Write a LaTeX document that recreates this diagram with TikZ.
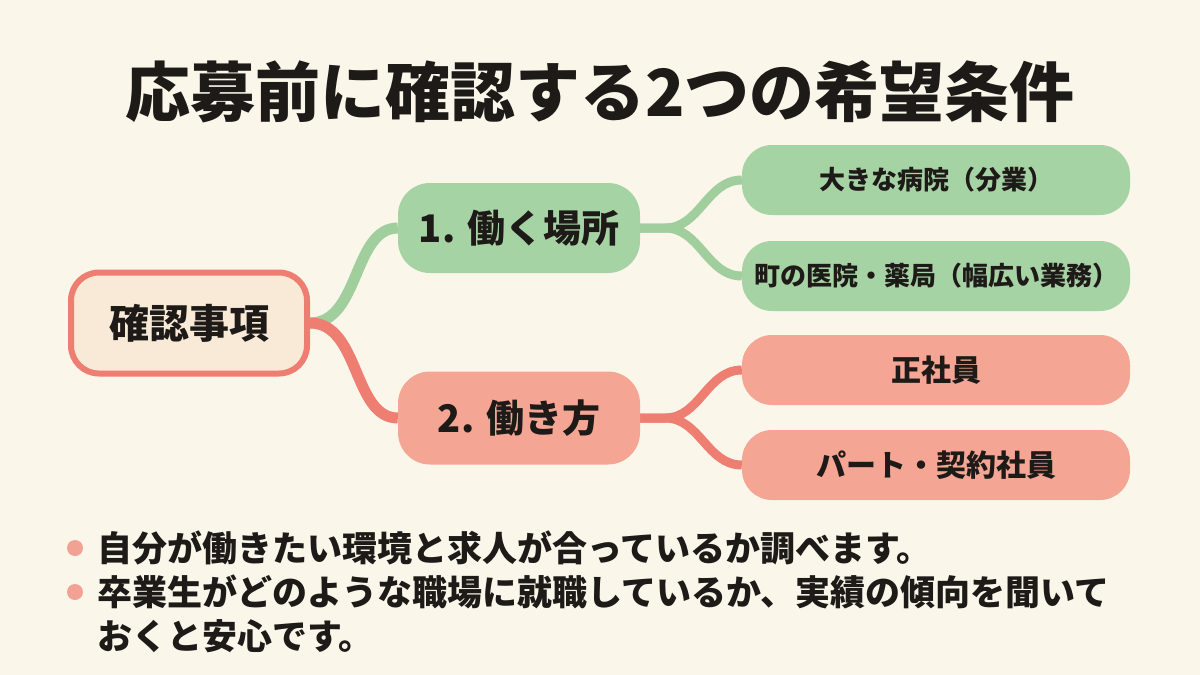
\documentclass[tikz,border=0pt]{standalone}
\usepackage{fontspec}
\setmainfont{Noto Sans CJK JP}
\usepackage{tikz}
\usetikzlibrary{positioning}
\usepackage{xcolor}
\definecolor{paper}{RGB}{251,246,234}
\definecolor{ink}{RGB}{30,26,24}
\definecolor{rootfill}{RGB}{248,234,214}
\definecolor{salmonline}{RGB}{238,125,114}
\definecolor{salmonfill}{RGB}{244,165,147}
\definecolor{greenline}{RGB}{160,206,157}
\definecolor{greenfill}{RGB}{166,211,164}
\definecolor{bulletdot}{RGB}{241,162,148}
\pgfdeclarelayer{bg}
\pgfdeclarelayer{edges}
\pgfsetlayers{bg,edges,main}
\tikzset{rootnode/.style={rectangle, rounded corners=28pt, fill=rootfill, draw=salmonline, line width=6pt, minimum width=236pt, minimum height=101pt, text=ink, font=\bfseries\fontsize{40}{44}\selectfont},
greenmid/.style={rectangle, rounded corners=32pt, fill=greenfill, minimum width=242pt, minimum height=90pt, text=ink, font=\bfseries\fontsize{38}{42}\selectfont},
salmonmid/.style={rectangle, rounded corners=32pt, fill=salmonfill, minimum width=242pt, minimum height=93pt, text=ink, font=\bfseries\fontsize{38}{42}\selectfont},
greenleaf/.style={rectangle, rounded corners=30pt, fill=greenfill, minimum width=388pt, minimum height=70pt, text=ink, font=\bfseries\fontsize{26}{30}\selectfont},
salmonleaf/.style={rectangle, rounded corners=30pt, fill=salmonfill, minimum width=388pt, minimum height=70pt, text=ink, font=\bfseries\fontsize{30}{34}\selectfont},
bullettext/.style={anchor=west, inner sep=0pt, text=ink, font=\bfseries\fontsize{35}{40}\selectfont}}

\begin{document}
\begin{tikzpicture}[x=1pt, y=-1pt,
        greenbranch/.style={draw=greenline, line width=11pt},
        salmonbranch/.style={draw=salmonline, line width=11pt}
    ]
        % Page
        \useasboundingbox (0,0) rectangle (1200,675);
        \begin{pgfonlayer}{bg}
            \fill[paper] (0,0) rectangle (1200,675);
        \end{pgfonlayer}
        % Title
        \node[text=ink, font=\bfseries\fontsize{65}{72}\selectfont] (title) at (600,92) {応募前に確認する2つの希望条件};
        % Nodes
        \node[rootnode] (root) at (189,323) {確認事項};
        \node[greenmid] (place) at (519,228) {1. 働く場所};
        \node[salmonmid] (style) at (519,418) {2. 働き方};
        \node[greenleaf] (hospital) at (936,180) {大きな病院（分業）};
        \node[greenleaf] (clinic) at (936,276) {町の医院・薬局（幅広い業務）};
        \node[salmonleaf] (fulltime) at (936,370) {正社員};
        \node[salmonleaf] (parttime) at (936,465) {パート・契約社員};
        % Branches
        \begin{pgfonlayer}{edges}
            \draw[greenbranch] (root.east) .. controls +(50,0) and +(-45,0) .. (place.west);
            \draw[salmonbranch] (root.east) .. controls +(50,0) and +(-45,0) .. (style.west);
            \draw[greenbranch, line width=9pt] (place.east) -- +(25,0) .. controls +(35,0) and +(-35,0) .. (hospital.west);
            \draw[greenbranch, line width=9pt] (place.east) -- +(25,0) .. controls +(35,0) and +(-35,0) .. (clinic.west);
            \draw[salmonbranch, line width=9pt] (style.east) -- +(25,0) .. controls +(35,0) and +(-35,0) .. (fulltime.west);
            \draw[salmonbranch, line width=9pt] (style.east) -- +(25,0) .. controls +(35,0) and +(-35,0) .. (parttime.west);
        \end{pgfonlayer}
        % Notes
        \fill[bulletdot] (75,548) circle (8);
        \fill[bulletdot] (75,592) circle (8);
        \node[bullettext] (noteone) at (97,548) {自分が働きたい環境と求人が合っているか調べます。};
        \node[bullettext] (notetwo) at (97,592) {卒業生がどのような職場に就職しているか、実績の傾向を聞いて};
        \node[bullettext] (notethree) at (97,636) {おくと安心です。};
    \end{tikzpicture}
\end{document}
